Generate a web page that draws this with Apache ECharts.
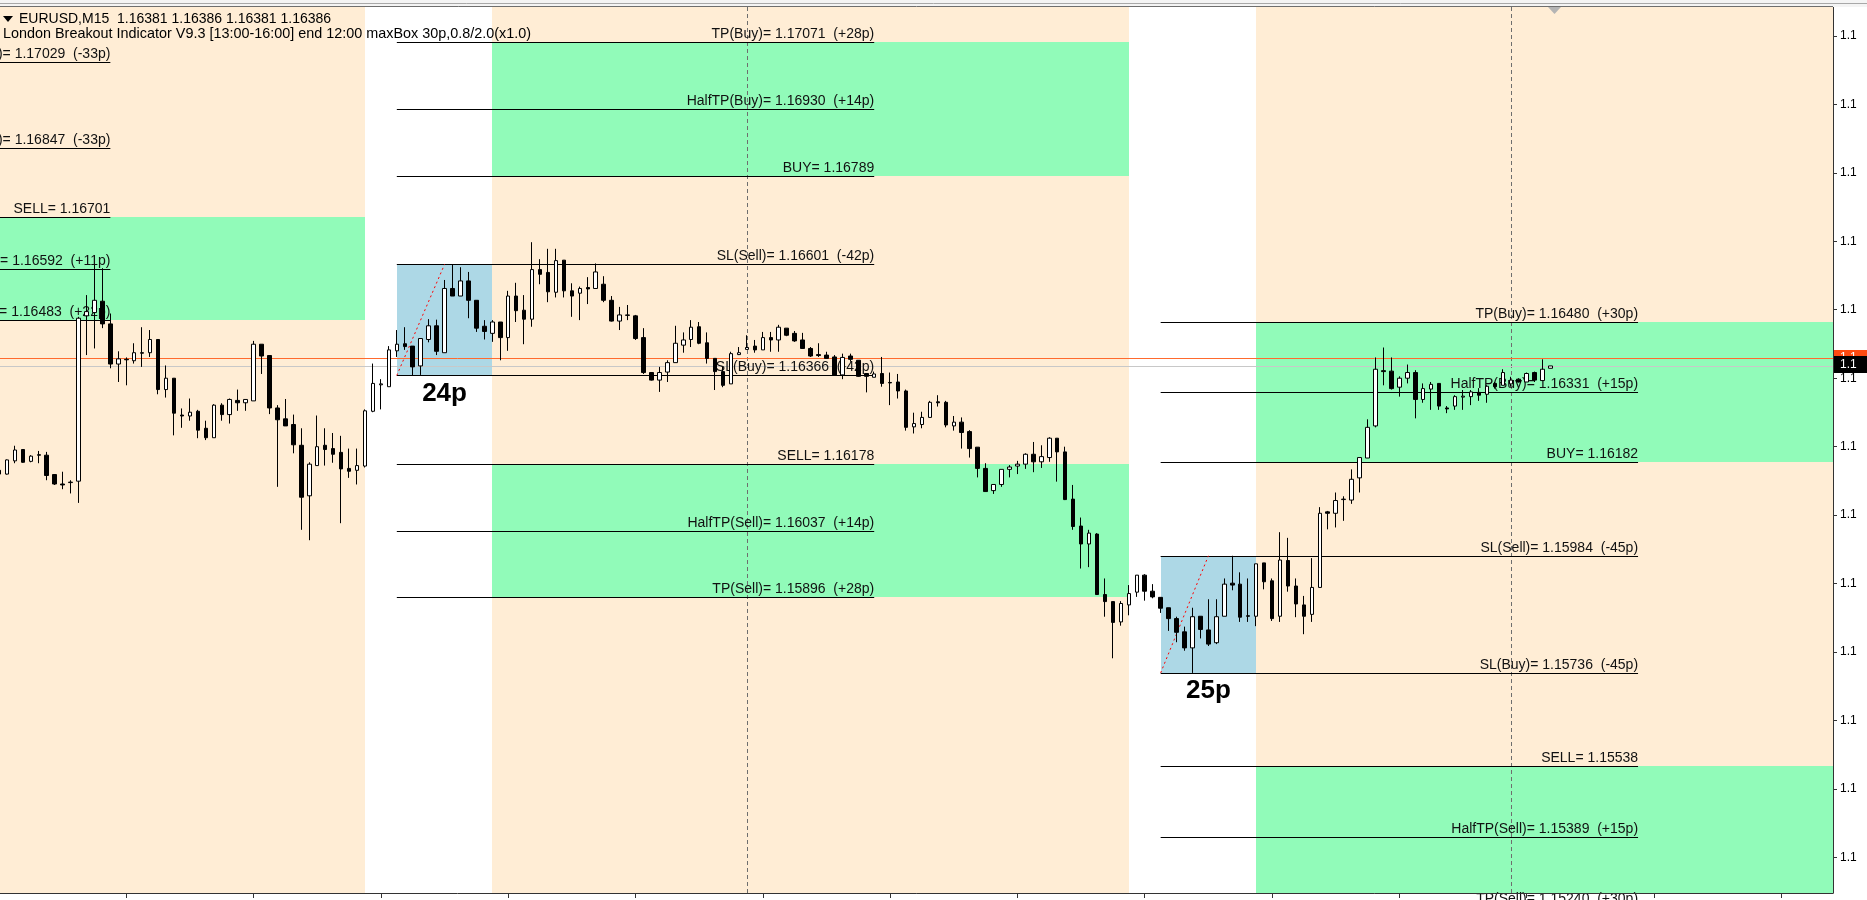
<!DOCTYPE html>
<html>
<head>
<meta charset="utf-8">
<title>EURUSD M15 - London Breakout</title>
<script src="https://cdn.jsdelivr.net/npm/echarts@6.0.0/dist/echarts.min.js"></script>
<style>
  html, body { margin: 0; padding: 0; background: #fff; }
  #chart { width: 1867px; height: 900px; }
</style>
</head>
<body>
<div id="chart"></div>
<script>
const FONT = '"Liberation Sans", Arial, sans-serif';

// M15 candles, [open, close, low, high]
const ohlc = [
  [1.16165, 1.16157, 1.16153, 1.16170], [1.16157, 1.16187, 1.16156, 1.16188], [1.16185, 1.16208, 1.16180, 1.16217], [1.16209, 1.16182, 1.16181, 1.16209], [1.16184, 1.16195, 1.16182, 1.16197],
  [1.16198, 1.16197, 1.16180, 1.16206], [1.16197, 1.16154, 1.16144, 1.16204], [1.16156, 1.16136, 1.16134, 1.16157], [1.16136, 1.16134, 1.16125, 1.16162], [1.16139, 1.16140, 1.16116, 1.16144],
  [1.16142, 1.16487, 1.16096, 1.16490], [1.16492, 1.16501, 1.16409, 1.16536], [1.16499, 1.16525, 1.16423, 1.16600], [1.16523, 1.16475, 1.16466, 1.16593], [1.16475, 1.16390, 1.16381, 1.16497],
  [1.16390, 1.16401, 1.16352, 1.16417], [1.16400, 1.16399, 1.16345, 1.16404], [1.16397, 1.16414, 1.16391, 1.16434], [1.16414, 1.16413, 1.16384, 1.16468], [1.16414, 1.16442, 1.16405, 1.16462],
  [1.16442, 1.16336, 1.16326, 1.16442], [1.16336, 1.16360, 1.16319, 1.16387], [1.16360, 1.16286, 1.16239, 1.16360], [1.16282, 1.16280, 1.16255, 1.16296], [1.16280, 1.16288, 1.16270, 1.16317],
  [1.16290, 1.16250, 1.16233, 1.16293], [1.16254, 1.16234, 1.16229, 1.16270], [1.16234, 1.16303, 1.16234, 1.16305], [1.16303, 1.16283, 1.16270, 1.16307], [1.16283, 1.16315, 1.16264, 1.16317],
  [1.16313, 1.16308, 1.16291, 1.16336], [1.16308, 1.16315, 1.16291, 1.16315], [1.16312, 1.16432, 1.16312, 1.16439], [1.16432, 1.16407, 1.16369, 1.16432], [1.16408, 1.16297, 1.16284, 1.16408],
  [1.16297, 1.16272, 1.16130, 1.16303], [1.16274, 1.16259, 1.16259, 1.16316], [1.16262, 1.16219, 1.16201, 1.16283], [1.16218, 1.16108, 1.16039, 1.16254], [1.16111, 1.16178, 1.16017, 1.16182],
  [1.16175, 1.16215, 1.16175, 1.16281], [1.16218, 1.16209, 1.16175, 1.16254], [1.16211, 1.16199, 1.16181, 1.16244], [1.16203, 1.16168, 1.16053, 1.16238], [1.16169, 1.16163, 1.16149, 1.16211],
  [1.16165, 1.16175, 1.16135, 1.16211], [1.16174, 1.16291, 1.16171, 1.16294], [1.16290, 1.16349, 1.16288, 1.16391], [1.16346, 1.16348, 1.16294, 1.16358], [1.16342, 1.16420, 1.16342, 1.16428],
  [1.16418, 1.16432, 1.16405, 1.16462], [1.16433, 1.16427, 1.16420, 1.16468], [1.16428, 1.16384, 1.16366, 1.16428], [1.16386, 1.16444, 1.16367, 1.16444], [1.16442, 1.16471, 1.16436, 1.16485],
  [1.16471, 1.16417, 1.16409, 1.16484], [1.16414, 1.16550, 1.16414, 1.16568], [1.16550, 1.16534, 1.16534, 1.16601], [1.16534, 1.16566, 1.16534, 1.16595], [1.16566, 1.16525, 1.16487, 1.16585],
  [1.16525, 1.16466, 1.16458, 1.16525], [1.16470, 1.16459, 1.16442, 1.16483], [1.16455, 1.16479, 1.16437, 1.16483], [1.16479, 1.16446, 1.16398, 1.16479], [1.16446, 1.16534, 1.16418, 1.16545],
  [1.16534, 1.16503, 1.16479, 1.16562], [1.16504, 1.16485, 1.16432, 1.16536], [1.16485, 1.16590, 1.16469, 1.16648], [1.16590, 1.16580, 1.16559, 1.16612], [1.16584, 1.16543, 1.16521, 1.16634],
  [1.16542, 1.16609, 1.16531, 1.16634], [1.16610, 1.16545, 1.16531, 1.16610], [1.16545, 1.16534, 1.16490, 1.16561], [1.16540, 1.16550, 1.16483, 1.16554], [1.16552, 1.16549, 1.16517, 1.16574],
  [1.16550, 1.16585, 1.16550, 1.16603], [1.16559, 1.16525, 1.16521, 1.16576], [1.16525, 1.16481, 1.16480, 1.16534], [1.16481, 1.16494, 1.16462, 1.16511], [1.16493, 1.16494, 1.16483, 1.16515],
  [1.16492, 1.16444, 1.16441, 1.16494], [1.16446, 1.16372, 1.16369, 1.16466], [1.16372, 1.16356, 1.16355, 1.16373], [1.16356, 1.16372, 1.16331, 1.16384], [1.16373, 1.16393, 1.16352, 1.16398],
  [1.16393, 1.16434, 1.16393, 1.16471], [1.16430, 1.16441, 1.16414, 1.16457], [1.16442, 1.16468, 1.16426, 1.16483], [1.16469, 1.16434, 1.16432, 1.16479], [1.16435, 1.16402, 1.16391, 1.16457],
  [1.16402, 1.16374, 1.16335, 1.16402], [1.16374, 1.16345, 1.16341, 1.16384], [1.16348, 1.16412, 1.16348, 1.16416], [1.16410, 1.16414, 1.16409, 1.16426], [1.16421, 1.16425, 1.16421, 1.16451],
  [1.16428, 1.16420, 1.16414, 1.16441], [1.16420, 1.16446, 1.16420, 1.16458], [1.16446, 1.16441, 1.16416, 1.16458], [1.16441, 1.16468, 1.16416, 1.16473], [1.16466, 1.16451, 1.16449, 1.16466],
  [1.16455, 1.16439, 1.16437, 1.16460], [1.16441, 1.16423, 1.16422, 1.16456], [1.16423, 1.16407, 1.16405, 1.16426], [1.16410, 1.16408, 1.16405, 1.16434], [1.16409, 1.16402, 1.16402, 1.16416],
  [1.16405, 1.16367, 1.16367, 1.16409], [1.16367, 1.16404, 1.16358, 1.16412], [1.16407, 1.16400, 1.16395, 1.16412], [1.16398, 1.16364, 1.16363, 1.16398], [1.16370, 1.16364, 1.16330, 1.16370],
  [1.16362, 1.16369, 1.16362, 1.16374], [1.16370, 1.16349, 1.16342, 1.16405], [1.16351, 1.16350, 1.16303, 1.16372], [1.16352, 1.16333, 1.16317, 1.16369], [1.16333, 1.16256, 1.16249, 1.16336],
  [1.16257, 1.16264, 1.16243, 1.16287], [1.16262, 1.16277, 1.16254, 1.16289], [1.16277, 1.16309, 1.16277, 1.16312], [1.16310, 1.16308, 1.16300, 1.16324], [1.16309, 1.16261, 1.16256, 1.16312],
  [1.16259, 1.16267, 1.16249, 1.16280], [1.16267, 1.16245, 1.16211, 1.16277], [1.16247, 1.16211, 1.16192, 1.16250], [1.16214, 1.16169, 1.16150, 1.16214], [1.16169, 1.16120, 1.16120, 1.16180],
  [1.16122, 1.16135, 1.16115, 1.16135], [1.16135, 1.16167, 1.16130, 1.16167], [1.16167, 1.16172, 1.16150, 1.16176], [1.16174, 1.16178, 1.16157, 1.16185], [1.16178, 1.16199, 1.16168, 1.16201],
  [1.16199, 1.16183, 1.16161, 1.16225], [1.16183, 1.16194, 1.16170, 1.16218], [1.16192, 1.16233, 1.16183, 1.16235], [1.16233, 1.16204, 1.16141, 1.16233], [1.16204, 1.16103, 1.16102, 1.16215],
  [1.16104, 1.16046, 1.16039, 1.16134], [1.16047, 1.16009, 1.15957, 1.16065], [1.16009, 1.16032, 1.15960, 1.16039], [1.16030, 1.15902, 1.15901, 1.16032], [1.15902, 1.15887, 1.15855, 1.15936],
  [1.15887, 1.15843, 1.15767, 1.15887], [1.15844, 1.15883, 1.15836, 1.15888], [1.15880, 1.15904, 1.15858, 1.15922], [1.15907, 1.15943, 1.15897, 1.15943], [1.15943, 1.15909, 1.15889, 1.15945],
  [1.15909, 1.15897, 1.15894, 1.15924], [1.15896, 1.15873, 1.15863, 1.15896], [1.15874, 1.15851, 1.15825, 1.15874], [1.15851, 1.15822, 1.15801, 1.15855], [1.15823, 1.15789, 1.15783, 1.15834],
  [1.15789, 1.15855, 1.15736, 1.15874], [1.15856, 1.15828, 1.15809, 1.15856], [1.15827, 1.15797, 1.15793, 1.15892], [1.15800, 1.15855, 1.15797, 1.15892], [1.15856, 1.15924, 1.15856, 1.15936],
  [1.15926, 1.15922, 1.15911, 1.15984], [1.15924, 1.15854, 1.15844, 1.15949], [1.15857, 1.15856, 1.15844, 1.15936], [1.15856, 1.15967, 1.15835, 1.15967], [1.15969, 1.15929, 1.15913, 1.15969],
  [1.15931, 1.15851, 1.15846, 1.15936], [1.15856, 1.15975, 1.15844, 1.16034], [1.15974, 1.15920, 1.15908, 1.16022], [1.15920, 1.15882, 1.15854, 1.15936], [1.15880, 1.15856, 1.15818, 1.15899],
  [1.15860, 1.15917, 1.15844, 1.15979], [1.15917, 1.16074, 1.15917, 1.16087], [1.16077, 1.16074, 1.16040, 1.16079], [1.16074, 1.16101, 1.16044, 1.16118], [1.16103, 1.16104, 1.16058, 1.16110],
  [1.16102, 1.16146, 1.16094, 1.16167], [1.16149, 1.16192, 1.16118, 1.16192], [1.16191, 1.16256, 1.16191, 1.16273], [1.16259, 1.16379, 1.16256, 1.16404], [1.16376, 1.16374, 1.16345, 1.16425],
  [1.16375, 1.16338, 1.16336, 1.16404], [1.16341, 1.16360, 1.16321, 1.16364], [1.16360, 1.16372, 1.16349, 1.16389], [1.16372, 1.16315, 1.16275, 1.16377], [1.16315, 1.16338, 1.16308, 1.16349],
  [1.16337, 1.16347, 1.16293, 1.16352], [1.16349, 1.16301, 1.16293, 1.16349], [1.16297, 1.16295, 1.16286, 1.16301], [1.16301, 1.16321, 1.16293, 1.16324], [1.16320, 1.16322, 1.16293, 1.16335],
  [1.16321, 1.16331, 1.16303, 1.16335], [1.16330, 1.16324, 1.16312, 1.16339], [1.16326, 1.16343, 1.16308, 1.16345], [1.16349, 1.16342, 1.16338, 1.16352], [1.16345, 1.16372, 1.16345, 1.16379],
  [1.16348, 1.16356, 1.16342, 1.16363], [1.16358, 1.16352, 1.16351, 1.16360], [1.16352, 1.16370, 1.16352, 1.16372], [1.16372, 1.16356, 1.16352, 1.16374], [1.16355, 1.16379, 1.16355, 1.16400],
  [1.16381, 1.16386, 1.16381, 1.16386]
];

// time axis: first visible bar is 00:30, chart shift leaves empty bars on the right
const barCount = 231;
const firstBarMinute = 30;
const categories = [];
for (let i = 0; i < barCount; i++) {
  const m = (firstBarMinute + i * 15) % 1440;
  categories.push(String(Math.floor(m / 60)).padStart(2, '0') + ':' + String(m % 60).padStart(2, '0'));
}

// price scale
const yMin = 1.15270;
const yMax = 1.17146;
const yTicks = [1.17085, 1.16940, 1.16795, 1.16650, 1.16505, 1.16360, 1.16215, 1.16070, 1.15925, 1.15780, 1.15635, 1.15490, 1.15345];
const bid = 1.16386;
const ask = 1.16402;
const daySeparators = [94, 190];

// breakout boxes (bar indexes: 13:00 start, 16:00 end, next 12:00, end of level lines)
const boxStart = [-46, 50, 146];
const boxEnd = [-34, 62, 158];
const sessionEnd = [46, 142, 238];
const lineEnd = [14, 110, 206];
const boxHigh = [1.17029, 1.16601, 1.15984];
const boxLow = [1.16847, 1.16366, 1.15736];
const boxPips = ['', '24p', '25p'];
const rangeLineEnd = [null, 56, 152];
const buyEntry = [null, 1.16789, 1.16182];
const buyTarget = [null, 1.17071, 1.16480];
const sellEntry = [1.16701, 1.16178, 1.15538];
const sellTarget = [1.16483, 1.15896, 1.15240];

// level lines
const levelBox = [0, 0, 0, 0, 0, 1, 1, 1, 1, 1, 1, 1, 1, 2, 2, 2, 2, 2, 2, 2, 2];
const levelName = ['SL(Sell)', 'SL(Buy)', 'SELL', 'HalfTP(Sell)', 'TP(Sell)',
  'TP(Buy)', 'HalfTP(Buy)', 'BUY', 'SL(Sell)', 'SL(Buy)', 'SELL', 'HalfTP(Sell)', 'TP(Sell)',
  'TP(Buy)', 'HalfTP(Buy)', 'BUY', 'SL(Sell)', 'SL(Buy)', 'SELL', 'HalfTP(Sell)', 'TP(Sell)'];
const levelPrice = [1.17029, 1.16847, 1.16701, 1.16592, 1.16483,
  1.17071, 1.16930, 1.16789, 1.16601, 1.16366, 1.16178, 1.16037, 1.15896,
  1.16480, 1.16331, 1.16182, 1.15984, 1.15736, 1.15538, 1.15389, 1.15240];
const levelPips = ['-33p', '-33p', '', '+11p', '+22p',
  '+28p', '+14p', '', '-42p', '-42p', '', '+14p', '+28p',
  '+30p', '+15p', '', '-45p', '-45p', '', '+15p', '+30p'];

const zoneColors = ['#FFEDD5', '#91FBB9', '#ADD8E6'];

const chart = echarts.init(document.getElementById('chart'));

// zones: [fromBar, toBar, topPrice, bottomPrice, colorIndex]
const zoneData = [];
for (let b = 0; b < boxStart.length; b++) {
  zoneData.push([boxEnd[b], sessionEnd[b], 2, 0, 0]);
  if (buyEntry[b] !== null) zoneData.push([boxEnd[b], sessionEnd[b], buyTarget[b], buyEntry[b], 1]);
  zoneData.push([boxEnd[b], sessionEnd[b], sellEntry[b], sellTarget[b], 1]);
  zoneData.push([boxStart[b], boxEnd[b], boxHigh[b], boxLow[b], 2]);
}

const levelData = levelPrice.map((p, i) => [boxStart[levelBox[i]], lineEnd[levelBox[i]], p]);
const levelText = levelName.map((n, i) =>
  n + '= ' + levelPrice[i].toFixed(5) + (levelPips[i] ? '  (' + levelPips[i] + ')' : ''));

const crisp = v => Math.round(v) + 0.5;

function renderZone(params, api) {
  const cs = params.coordSys;
  const a = api.coord([api.value(0), api.value(2)]);
  const b = api.coord([api.value(1), api.value(3)]);
  const x0 = Math.max(Math.round(a[0]), cs.x);
  const x1 = Math.min(Math.round(b[0]), cs.x + cs.width);
  const y0 = Math.max(Math.round(a[1]), cs.y);
  const y1 = Math.min(Math.round(b[1]), cs.y + cs.height);
  if (x1 <= x0 || y1 <= y0) return;
  return {
    type: 'rect',
    shape: { x: x0, y: y0, width: x1 - x0, height: y1 - y0 },
    style: { fill: zoneColors[api.value(4)] }
  };
}

function renderLevel(params, api) {
  const a = api.coord([api.value(0), api.value(2)]);
  const b = api.coord([api.value(1), api.value(2)]);
  const y = crisp(a[1]);
  return {
    type: 'group',
    children: [
      { type: 'line', shape: { x1: a[0], y1: y, x2: b[0], y2: y }, style: { stroke: '#000', lineWidth: 1 } },
      {
        type: 'text', x: b[0], y: y - 1,
        style: { text: levelText[params.dataIndex], align: 'right', verticalAlign: 'bottom', font: '14px ' + FONT, fill: '#111' }
      }
    ]
  };
}

function renderBoxMarks(params, api) {
  const b = params.dataIndex;
  const children = [];
  const lowL = api.coord([boxStart[b], boxLow[b]]);
  const lowR = api.coord([boxEnd[b], boxLow[b]]);
  if (rangeLineEnd[b] !== null) {
    const top = api.coord([rangeLineEnd[b], boxHigh[b]]);
    children.push({
      type: 'line', shape: { x1: lowL[0], y1: lowL[1], x2: top[0], y2: top[1] },
      style: { stroke: '#FF0000', lineWidth: 1, lineDash: [2, 3] }
    });
  }
  if (boxPips[b]) {
    children.push({
      type: 'text', x: (lowL[0] + lowR[0]) / 2, y: lowL[1] + 18,
      style: { text: boxPips[b], align: 'center', verticalAlign: 'middle', font: 'bold 26px ' + FONT, fill: '#000' }
    });
  }
  return { type: 'group', children: children };
}

function renderGuides(params, api) {
  const cs = params.coordSys;
  const children = [];
  daySeparators.forEach(i => {
    const x = crisp(api.coord([i, bid])[0]);
    children.push({
      type: 'line', shape: { x1: x, y1: cs.y, x2: x, y2: cs.y + cs.height },
      style: { stroke: '#6E6E6E', lineWidth: 1, lineDash: [4, 3] }
    });
  });
  const yb = crisp(api.coord([0, bid])[1]);
  const ya = crisp(api.coord([0, ask])[1]);
  children.push({ type: 'line', shape: { x1: cs.x, y1: yb, x2: cs.x + cs.width, y2: yb }, style: { stroke: '#C8C8C8', lineWidth: 1 } });
  children.push({ type: 'line', shape: { x1: cs.x, y1: ya, x2: cs.x + cs.width, y2: ya }, style: { stroke: '#FF6A2E', lineWidth: 1 } });
  return { type: 'group', children: children };
}

function renderTags(params, api) {
  const cs = params.coordSys;
  const x = cs.x + cs.width + 1;
  const tag = (price, fill, up, down) => {
    const y = Math.round(api.coord([0, price])[1]);
    return [
      { type: 'rect', shape: { x: x, y: y - up, width: 40, height: up + down }, style: { fill: fill } },
      { type: 'text', x: x + 6, y: y + (down - up) / 2, style: { text: price.toFixed(5).slice(0, 3), verticalAlign: 'middle', font: '12px ' + FONT, fill: '#fff' } }
    ];
  };
  return { type: 'group', children: tag(ask, '#FF4A10', 8, 8).concat(tag(bid, '#000', 10, 7)) };
}

const last = ohlc[ohlc.length - 1];

const option = {
  animation: false,
  backgroundColor: '#ffffff',
  grid: { left: -5, right: 34, top: 7, bottom: 7, show: false, outerBoundsMode: 'none', containLabel: false },
  xAxis: {
    type: 'category',
    data: categories,
    min: 0,
    max: barCount - 1,
    boundaryGap: true,
    z: 10,
    axisLine: { lineStyle: { color: '#333', width: 1 } },
    axisTick: { show: true, interval: 15, alignWithLabel: true, length: 5, lineStyle: { color: '#333' } },
    axisLabel: { show: false },
    splitLine: { show: false }
  },
  yAxis: {
    type: 'value',
    position: 'right',
    min: yMin,
    max: yMax,
    scale: true,
    z: 10,
    axisLine: { show: true, lineStyle: { color: '#333', width: 1 } },
    axisTick: { show: true, length: 4, customValues: yTicks, lineStyle: { color: '#333' } },
    axisLabel: {
      show: true, customValues: yTicks, margin: 7,
      color: '#000', fontFamily: FONT, fontSize: 12,
      formatter: v => v.toFixed(5).slice(0, 3)
    },
    splitLine: { show: false }
  },
  series: [
    {
      name: 'zones', type: 'custom', z: 1, silent: true,
      renderItem: renderZone,
      encode: { x: [0, 1], y: [2, 3] },
      data: zoneData
    },
    {
      name: 'guides', type: 'custom', z: 2, silent: true,
      renderItem: renderGuides,
      data: [[0, bid]]
    },
    {
      name: 'levels', type: 'custom', z: 2, silent: true,
      renderItem: renderLevel,
      encode: { x: [0, 1], y: 2 },
      data: levelData
    },
    {
      name: 'boxes', type: 'custom', z: 2, silent: true,
      renderItem: renderBoxMarks,
      data: boxStart.map((s, i) => [s, boxLow[i]])
    },
    {
      name: 'EURUSD,M15', type: 'candlestick', z: 3,
      barWidth: 4,
      data: ohlc,
      itemStyle: { color: '#ffffff', color0: '#000000', borderColor: '#000000', borderColor0: '#000000', borderWidth: 1 }
    },
    {
      name: 'tags', type: 'custom', z: 6, silent: true,
      renderItem: renderTags,
      data: [[0, bid]]
    }
  ],
  graphic: [
    { type: 'rect', z: 100, shape: { x: 0, y: 0, width: 1867, height: 7 }, style: { fill: '#f4f4f4' } },
    { type: 'line', z: 100, shape: { x1: 0, y1: 3.5, x2: 1867, y2: 3.5 }, style: { stroke: '#a8a8a8', lineWidth: 1 } },
    { type: 'line', z: 100, shape: { x1: 0, y1: 6.5, x2: 1833, y2: 6.5 }, style: { stroke: '#6e6e6e', lineWidth: 1 } },
    { type: 'polygon', z: 101, shape: { points: [[1548, 7], [1561, 7], [1554.5, 14]] }, style: { fill: '#b4b4b4' } },
    { type: 'polygon', z: 100, shape: { points: [[3, 16], [13, 16], [8, 22]] }, style: { fill: '#000' } },
    {
      type: 'text', z: 100, x: 19, y: 19,
      style: { text: 'EURUSD,M15  ' + [last[0], last[3], last[2], last[1]].map(v => v.toFixed(5)).join(' '), font: '14px ' + FONT, fill: '#000', verticalAlign: 'middle' }
    },
    {
      type: 'text', z: 100, x: 3, y: 34,
      style: { text: 'London Breakout Indicator V9.3 [13:00-16:00] end 12:00 maxBox 30p,0.8/2.0(x1.0)', font: '14.4px ' + FONT, fill: '#000', verticalAlign: 'middle' }
    }
  ]
};

chart.setOption(option);
</script>
</body>
</html>
